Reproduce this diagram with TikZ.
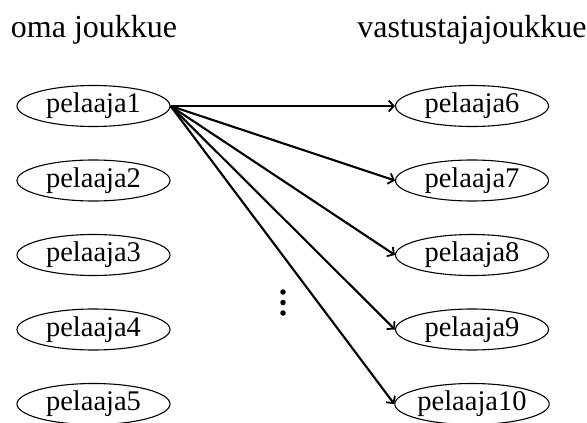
\documentclass[tikz,border=0pt]{standalone}
\usepackage{fontspec}
\setmainfont{Liberation Serif}
\usetikzlibrary{shapes.geometric,arrows.meta}
\begin{document}
\begin{tikzpicture}[x=1pt,y=-1pt,
  player/.style={draw,ellipse,line width=1.1pt,minimum width=153pt,minimum height=41pt,inner sep=0pt,
    font=\fontsize{28.5}{32}\selectfont},
  title/.style={anchor=base,inner sep=0pt,font=\fontsize{32}{36}\selectfont},
  link/.style={line width=2.1pt,-{Straight Barb[length=5pt,width=11pt,line width=1.8pt]}},
  dot/.style={circle,fill=black,inner sep=0pt,minimum size=5.5pt}]
\useasboundingbox (0,0) rectangle (587,423);
\node[title] (t1) at (94,37) {oma joukkue};
\node[title] (t2) at (472,37) {vastustajajoukkue};
\node[player] (p1) at (93.5,106) {pelaaja1};
\node[player] (p2) at (93.5,180.5) {pelaaja2};
\node[player] (p3) at (93.5,255) {pelaaja3};
\node[player] (p4) at (93.5,329.5) {pelaaja4};
\node[player] (p5) at (93.5,404) {pelaaja5};
\node[player] (p6) at (472,106) {pelaaja6};
\node[player] (p7) at (472,180.5) {pelaaja7};
\node[player] (p8) at (472,255) {pelaaja8};
\node[player] (p9) at (472,329.5) {pelaaja9};
\node[player] (p10) at (472,404) {pelaaja10};
\node[dot] (d1) at (283,292) {};
\node[dot] (d2) at (283,302.5) {};
\node[dot] (d3) at (283,313) {};
\foreach \t in {p6,p7,p8,p9,p10}{
  \draw[link] (p1.east) -- (\t.west);
}
\end{tikzpicture}
\end{document}
